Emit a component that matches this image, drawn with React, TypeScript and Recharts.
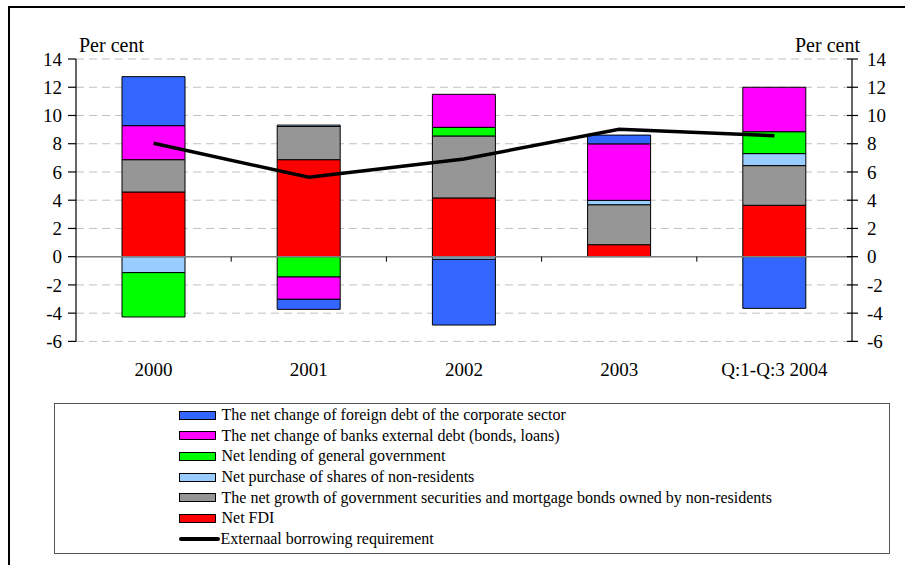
import React from 'react';
import {
  ComposedChart,
  Bar,
  Line,
  XAxis,
  YAxis,
  CartesianGrid,
  ReferenceLine,
} from 'recharts';

// Categories and series (per cent)
const years = ['2000', '2001', '2002', '2003', 'Q:1-Q:3 2004'];
const netFdi = [4.58, 6.87, 4.16, 0.85, 3.64];
const govSecurities = [2.29, 2.35, 4.39, 2.83, 2.81];
const sharePurchases = [-1.13, 0.1, -0.19, 0.31, 0.85];
const govLending = [-3.14, -1.44, 0.61, 0, 1.55];
const bankDebt = [2.41, -1.58, 2.34, 4.0, 3.15];
const corporateDebt = [3.47, -0.71, -4.65, 0.62, -3.66];
const borrowingReq = [8.03, 5.62, 6.92, 9.02, 8.57];

const yTicks = [-6, -4, -2, 0, 2, 4, 6, 8, 10, 12, 14];

// stacking order, bottom to top
const barSeries = [
  { key: 'fdi', name: 'Net FDI', color: '#FF0000', values: netFdi },
  {
    key: 'govSec',
    name: 'The net growth of government securities and mortgage bonds owned by non-residents',
    color: '#969696',
    values: govSecurities,
  },
  { key: 'shares', name: 'Net purchase of shares of non-residents', color: '#99CCFF', values: sharePurchases },
  { key: 'lending', name: 'Net lending of general government', color: '#00FF00', values: govLending },
  { key: 'banks', name: 'The net change of banks external debt (bonds, loans)', color: '#FF00FF', values: bankDebt },
  { key: 'corp', name: 'The net change of foreign debt of the corporate sector', color: '#3366FF', values: corporateDebt },
];
const lineName = 'Externaal borrowing requirement';

const data = years.map((year, i) => {
  const row: Record<string, string | number> = { year, borrowing: borrowingReq[i] };
  barSeries.forEach(s => {
    row[s.key] = s.values[i];
  });
  return row;
});

// layout
const W = 905;
const H = 565;
const TOP = 59;
const LEFT_W = 76;
const RIGHT_W = 53;
const PLOT_H = 282.4;
const PLOT_RIGHT = W - RIGHT_W;
const BAND = (PLOT_RIGHT - LEFT_W) / years.length;
const ZERO_Y = TOP + PLOT_H * (14 / 20);
const FONT = "'Liberation Serif', 'DejaVu Serif', Tinos, 'Times New Roman', Times, serif";

const CategoryTick = (props: any) => {
  const { x, y, payload, index } = props;
  return (
    <g>
      {index < years.length - 1 && (
        <line x1={x + BAND / 2} x2={x + BAND / 2} y1={ZERO_Y} y2={ZERO_Y + 5} stroke="#000" strokeWidth={1} />
      )}
      <text x={x} y={y + 27} textAnchor="middle" fontSize={19} style={{ fontFamily: FONT }} fill="#000">
        {payload.value}
      </text>
    </g>
  );
};

const RightTick = (props: any) => {
  const { y, payload } = props;
  return (
    <g>
      <line x1={PLOT_RIGHT - 5} x2={PLOT_RIGHT + 6} y1={y} y2={y} stroke="#000" strokeWidth={1.2} />
      <text x={PLOT_RIGHT + 15} y={y} dy="0.355em" textAnchor="start" fontSize={19} style={{ fontFamily: FONT }} fill="#000">
        {payload.value}
      </text>
    </g>
  );
};

const LeftTick = (props: any) => {
  const { x, y, payload } = props;
  return (
    <text x={x} y={y} dy="0.355em" textAnchor="end" fontSize={19} style={{ fontFamily: FONT }} fill="#000">
      {payload.value}
    </text>
  );
};

const legendOrder = [...barSeries].reverse();

export default function App() {
  return (
    <div style={{ position: 'absolute', left: 0, top: 0, width: W, height: H, background: '#fff', fontFamily: FONT }}>
      {/* frame */}
      <div
        style={{
          position: 'absolute',
          left: 8,
          top: 6,
          width: W - 8,
          height: H - 6,
          borderLeft: '2px solid #000',
          borderTop: '2px solid #000',
          boxSizing: 'border-box',
        }}
      />
      <ComposedChart
        width={W}
        height={H}
        data={data}
        stackOffset="sign"
        margin={{ top: TOP, right: 0, bottom: H - TOP - PLOT_H - 30, left: 0 }}
        style={{ position: 'absolute', left: 0, top: 0 }}
      >
        <CartesianGrid
          yAxisId="left"
          vertical={false}
          stroke="#c0c0c0"
          strokeDasharray="8 5"
        />
        <XAxis
          dataKey="year"
          height={30}
          axisLine={false}
          tickLine={false}
          interval={0}
          tick={<CategoryTick />}
        />
        <YAxis
          yAxisId="left"
          width={LEFT_W}
          domain={[-6, 14]}
          ticks={yTicks}
          interval={0}
          allowDataOverflow
          tickSize={8}
          tickMargin={6}
          axisLine={{ stroke: '#000', strokeWidth: 1.2 }}
          tickLine={{ stroke: '#000', strokeWidth: 1.2 }}
          tick={<LeftTick />}
        />
        <YAxis
          yAxisId="right"
          orientation="right"
          width={RIGHT_W}
          domain={[-6, 14]}
          ticks={yTicks}
          interval={0}
          allowDataOverflow
          axisLine={{ stroke: '#000', strokeWidth: 1.2 }}
          tickLine={false}
          tick={<RightTick />}
        />
        <ReferenceLine yAxisId="left" y={0} stroke="#808080" strokeWidth={1.5} />
        {barSeries.map(s => (
          <Bar
            key={s.key}
            yAxisId="left"
            dataKey={s.key}
            name={s.name}
            stackId="a"
            fill={s.color}
            stroke="#000"
            strokeWidth={1}
            barSize={63}
            isAnimationActive={false}
          />
        ))}
        <Line
          yAxisId="left"
          dataKey="borrowing"
          name={lineName}
          type="linear"
          stroke="#000"
          strokeWidth={3.5}
          dot={false}
          activeDot={false}
          isAnimationActive={false}
        />
      </ComposedChart>

      {/* axis titles */}
      <div style={{ position: 'absolute', left: 79, top: 35, fontSize: 20, lineHeight: '20px', color: '#000' }}>Per cent</div>
      <div style={{ position: 'absolute', left: 795, top: 35, fontSize: 20, lineHeight: '20px', color: '#000' }}>Per cent</div>

      {/* legend */}
      <div
        style={{
          position: 'absolute',
          left: 54,
          top: 403,
          width: 836,
          height: 151,
          border: '1.5px solid #555',
          boxSizing: 'border-box',
          paddingTop: 1,
          paddingLeft: 123.5,
        }}
      >
        {legendOrder.map(s => (
          <div key={s.key} style={{ display: 'flex', alignItems: 'center', height: 20.6 }}>
            <div
              style={{
                width: 37,
                height: 9,
                background: s.color,
                border: '1px solid #000',
                boxSizing: 'border-box',
                marginRight: 6,
              }}
            />
            <span style={{ fontSize: 16, lineHeight: '16px', color: '#000', whiteSpace: 'nowrap' }}>{s.name}</span>
          </div>
        ))}
        <div style={{ display: 'flex', alignItems: 'center', height: 20.6 }}>
          <div style={{ width: 41, height: 4, background: '#000', borderRadius: 2, marginRight: 1 }} />
          <span style={{ fontSize: 16, lineHeight: '16px', color: '#000', whiteSpace: 'nowrap' }}>{lineName}</span>
        </div>
      </div>
    </div>
  );
}
